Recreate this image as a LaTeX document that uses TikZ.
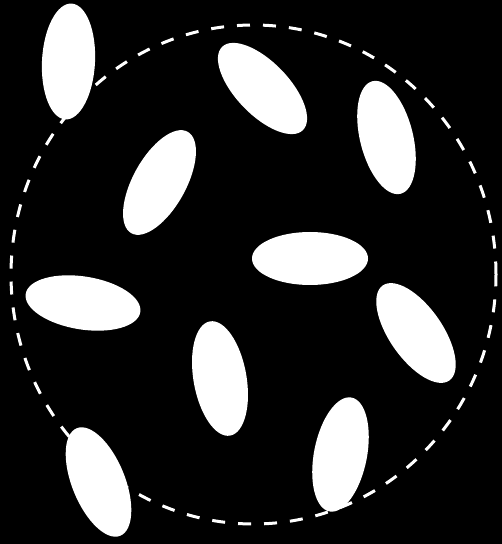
\documentclass[tikz,border=0pt]{standalone}
\begin{document}
\begin{tikzpicture}[x=1pt,y=1pt,
  blob/.style={fill=white},
  ring/.style={draw=white,line width=3pt,dash pattern=on 13pt off 13pt}]
\fill[black] (0,0) rectangle (502,544);
\useasboundingbox (0,0) rectangle (502,544);
\draw[ring] (253.5,269.5) ellipse [x radius=242.5, y radius=249.5];
\foreach \cx/\cy/\ang in {
  68.5/482.5/87,
  262.5/455.5/-46,
  386.5/406.5/104,
  159.5/361.5/61,
  310/285.5/0,
  83/241/-9,
  416/211/-55,
  220/165.5/100,
  98.5/62/112,
  340.5/89.5/79}{
  \fill[blob, rotate around={\ang:(\cx,\cy)}] (\cx,\cy) ellipse [x radius=58, y radius=26.5];
}
\end{tikzpicture}
\end{document}
